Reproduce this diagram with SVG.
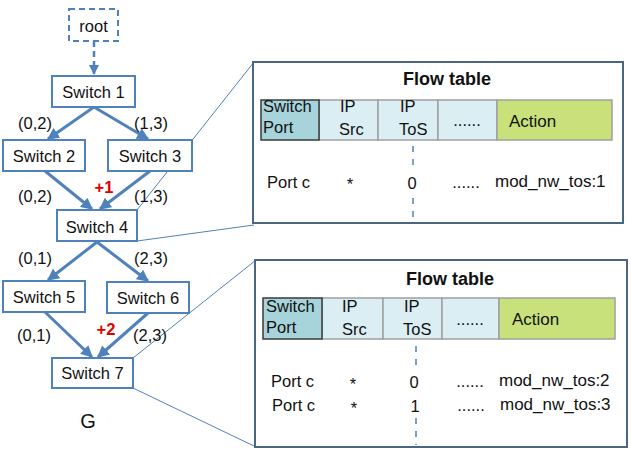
<svg xmlns="http://www.w3.org/2000/svg" width="631" height="454" viewBox="0 0 631 454">
<defs>
<marker id="ah" viewBox="0 0 10 10" refX="9" refY="5" markerWidth="4" markerHeight="4" orient="auto" markerUnits="strokeWidth">
<path d="M0,0 L10,5 L0,10 z" fill="#4f81bd"/>
</marker>
<style>
text{font-family:"Liberation Sans",Arial,sans-serif;font-size:16.5px;fill:#111}
.node rect{fill:#fff;stroke:#4f81bd;stroke-width:2}
.edge{stroke:#4f81bd;stroke-width:3;fill:none;marker-end:url(#ah)}
.call{stroke:#4f81bd;stroke-width:1;fill:none}
.lab{text-anchor:middle}
.red{fill:#e00000;font-weight:bold;text-anchor:middle}
.box{fill:#fff;stroke:#4a6685;stroke-width:2}
.title{font-weight:bold;font-size:18px;text-anchor:middle}
.sp{fill:#a7d3da;stroke:#3a3a3a;stroke-width:1.5}
.hc{fill:#dbeef3;stroke:#a0a0a0;stroke-width:1.5}
.ac{fill:#c8e17a;stroke:#a0a0a0;stroke-width:1.5}
.dash{stroke:#4f81bd;stroke-width:1.5;stroke-dasharray:6,7}
.act{font-size:17px}
</style>
</defs>
<g id="connectors">
<line class="call" x1="137" y1="210" x2="254" y2="62"/>
<line class="call" x1="137" y1="241" x2="254" y2="225"/>
<line class="call" x1="133" y1="358" x2="256" y2="260"/>
<line class="call" x1="133" y1="388" x2="256" y2="447"/>
<line x1="94" y1="41" x2="94" y2="74" stroke="#4f81bd" stroke-width="2.5" stroke-dasharray="6,4" marker-end="url(#ah)"/>
<line class="edge" x1="94" y1="107" x2="48" y2="139"/>
<line class="edge" x1="94" y1="107" x2="148" y2="139"/>
<line class="edge" x1="45" y1="171" x2="92" y2="209"/>
<line class="edge" x1="150" y1="171" x2="100" y2="209"/>
<line class="edge" x1="97" y1="242" x2="48" y2="280"/>
<line class="edge" x1="97" y1="242" x2="148" y2="281"/>
<line class="edge" x1="45" y1="312" x2="92" y2="357"/>
<line class="edge" x1="148" y1="313" x2="98" y2="357"/>
</g>
<g id="root" class="node"><rect x="69" y="9" width="49" height="32" style="stroke-dasharray:6,4"/><text x="93.5" y="32" class="lab">root</text></g>
<g id="switch1" class="node"><rect x="52" y="76" width="83" height="31"/><text x="93.5" y="98" class="lab">Switch 1</text></g>
<g id="switch2" class="node"><rect x="3" y="140" width="82" height="31"/><text x="44" y="162" class="lab">Switch 2</text></g>
<g id="switch3" class="node"><rect x="108" y="140" width="84" height="31"/><text x="150" y="162" class="lab">Switch 3</text></g>
<g id="switch4" class="node"><rect x="57" y="210" width="80" height="31"/><text x="97" y="233" class="lab">Switch 4</text></g>
<g id="switch5" class="node"><rect x="3" y="281" width="82" height="31"/><text x="44" y="303" class="lab">Switch 5</text></g>
<g id="switch6" class="node"><rect x="107" y="282" width="82" height="31"/><text x="148" y="304" class="lab">Switch 6</text></g>
<g id="switch7" class="node"><rect x="52" y="358" width="81" height="30"/><text x="92.5" y="379" class="lab">Switch 7</text></g>
<g id="labels">
<text x="35" y="129" class="lab">(0,2)</text>
<text x="151" y="129" class="lab">(1,3)</text>
<text x="35" y="202" class="lab">(0,2)</text>
<text x="151" y="202" class="lab">(1,3)</text>
<text x="104" y="193" class="red">+1</text>
<text x="35" y="264" class="lab">(0,1)</text>
<text x="151" y="264" class="lab">(2,3)</text>
<text x="34" y="341" class="lab">(0,1)</text>
<text x="150" y="341" class="lab">(2,3)</text>
<text x="106" y="335" class="red">+2</text>
<text x="88" y="428" class="lab" style="font-size:20px">G</text>
</g>
<g id="flowtable1">
<rect class="box" x="253" y="62" width="370" height="161"/>
<text x="447" y="85" class="title">Flow table</text>
<rect class="hc" x="319" y="100" width="59" height="40"/>
<rect class="hc" x="378" y="100" width="60" height="40"/>
<rect class="hc" x="438" y="100" width="59" height="40"/>
<rect class="ac" x="497" y="100" width="115" height="40"/>
<rect class="sp" x="261" y="100" width="58" height="40"/>
<text x="263" y="112">Switch</text>
<text x="263" y="133">Port</text>
<text x="340" y="112">IP</text>
<text x="339" y="135">Src</text>
<text x="400" y="112">IP</text>
<text x="399" y="135">ToS</text>
<text x="467" y="126" class="lab">......</text>
<text x="509" y="127" class="act">Action</text>
<line class="dash" x1="413" y1="146" x2="413" y2="172"/>
<line class="dash" x1="413" y1="198" x2="413" y2="220"/>
<text x="267" y="188">Port c</text>
<text x="350" y="190" class="lab">*</text>
<text x="412" y="189" class="lab">0</text>
<text x="466" y="188" class="lab">......</text>
<text x="495" y="187" class="act">mod_nw_tos:1</text>
</g>
<g id="flowtable2">
<rect class="box" x="255" y="260" width="372" height="187"/>
<text x="450" y="285" class="title">Flow table</text>
<rect class="hc" x="322" y="298" width="61" height="41"/>
<rect class="hc" x="383" y="298" width="59" height="41"/>
<rect class="hc" x="442" y="298" width="57" height="41"/>
<rect class="ac" x="499" y="298" width="116" height="41"/>
<rect class="sp" x="263" y="298" width="59" height="41"/>
<text x="266" y="312">Switch</text>
<text x="266" y="333">Port</text>
<text x="342" y="312">IP</text>
<text x="342" y="335">Src</text>
<text x="404" y="312">IP</text>
<text x="403" y="335">ToS</text>
<text x="470" y="325" class="lab">......</text>
<text x="512" y="325" class="act">Action</text>
<line class="dash" x1="416" y1="346" x2="416" y2="366"/>
<line class="dash" x1="416" y1="418" x2="416" y2="445"/>
<text x="271" y="387">Port c</text>
<text x="353" y="390" class="lab">*</text>
<text x="414" y="388" class="lab">0</text>
<text x="470" y="387" class="lab">......</text>
<text x="499" y="386" class="act">mod_nw_tos:2</text>
<text x="272" y="411">Port c</text>
<text x="354" y="414" class="lab">*</text>
<text x="415" y="412" class="lab">1</text>
<text x="471" y="411" class="lab">......</text>
<text x="500" y="410" class="act">mod_nw_tos:3</text>
</g>
</svg>
